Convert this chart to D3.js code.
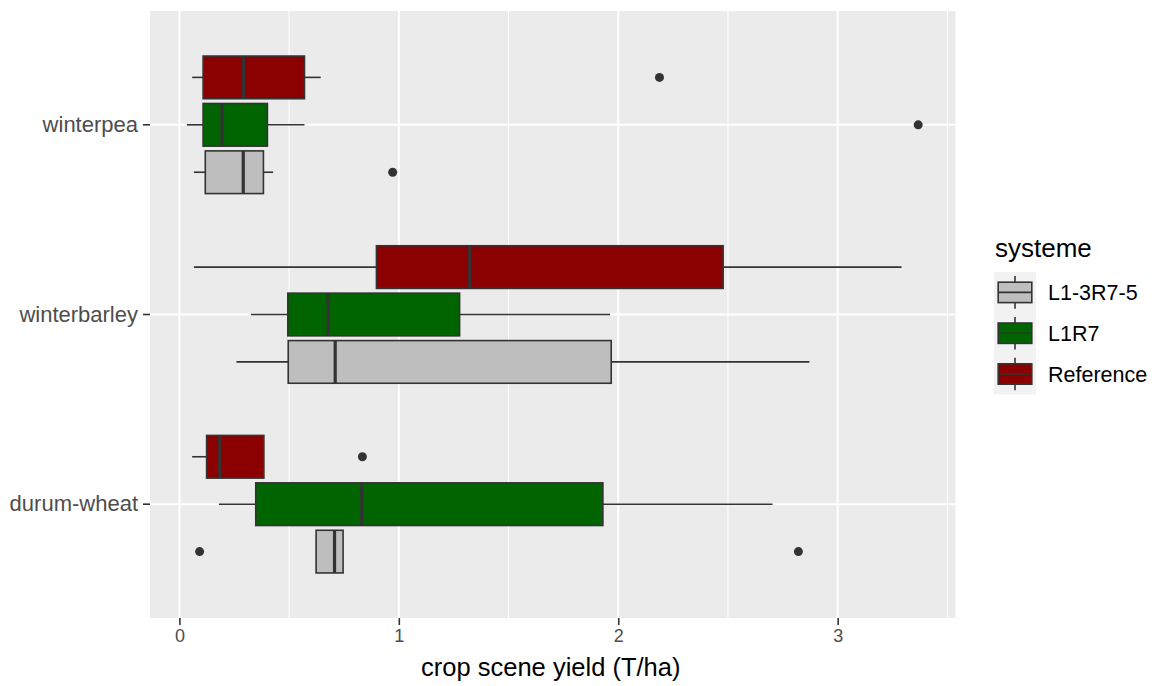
<!DOCTYPE html>
<html><head><meta charset="utf-8">
<script src="https://cdn.jsdelivr.net/npm/d3@7"></script>
<style>body{margin:0;background:#fff}svg{display:block}text{font-family:"Liberation Sans",Arial,sans-serif}</style>
</head><body><svg id="c" width="1156" height="686"></svg>
<script>
// categories (top to bottom) and systems (top to bottom within category)
const categories = ["winterpea", "winterbarley", "durum-wheat"];
const systems = ["Reference", "L1R7", "L1-3R7-5"];
const legendOrder = ["L1-3R7-5", "L1R7", "Reference"];
const colors = {"L1-3R7-5": "#BEBEBE", "L1R7": "#006400", "Reference": "#8B0000"};
const xTicks = [0, 1, 2, 3];
// box stats: [lower whisker, q1, median, q3, upper whisker]
const winterpea = {
  "Reference": [0.058, 0.108, 0.292, 0.570, 0.644],
  "L1R7":      [0.034, 0.108, 0.194, 0.401, 0.570],
  "L1-3R7-5":  [0.066, 0.118, 0.291, 0.383, 0.427]
};
const winterbarley = {
  "Reference": [0.066, 0.898, 1.323, 2.478, 3.291],
  "L1R7":      [0.326, 0.494, 0.678, 1.277, 1.963],
  "L1-3R7-5":  [0.260, 0.496, 0.710, 1.968, 2.871]
};
const durumwheat = {
  "Reference": [0.058, 0.124, 0.184, 0.385, 0.385],
  "L1R7":      [0.180, 0.348, 0.831, 1.930, 2.703],
  "L1-3R7-5":  [0.623, 0.623, 0.707, 0.746, 0.746]
};
const outliersPea = {"Reference": [2.188], "L1R7": [3.367], "L1-3R7-5": [0.972]};
const outliersBarley = {"Reference": [], "L1R7": [], "L1-3R7-5": []};
const outliersDurum = {"Reference": [0.834], "L1R7": [], "L1-3R7-5": [0.092, 2.821]};

const stats = {"winterpea": winterpea, "winterbarley": winterbarley, "durum-wheat": durumwheat};
const outs = {"winterpea": outliersPea, "winterbarley": outliersBarley, "durum-wheat": outliersDurum};

const svg = d3.select("#c");
const P = {l: 150, r: 955.5, t: 11, b: 618};
const x = d3.scaleLinear().domain([-0.134, 3.537]).range([P.l, P.r]);
const y = d3.scaleBand().domain(categories).range([P.t, P.b]).paddingInner(0).paddingOuter(0.1);
const step = y.step();
const sub = d3.scaleBand().domain(systems).range([-0.375 * step, 0.375 * step]);
const boxH = sub.bandwidth() * 0.9;

// panel
svg.append("rect").attr("x", P.l).attr("y", P.t).attr("width", P.r - P.l).attr("height", P.b - P.t).attr("fill", "#EBEBEB");
const minor = [-0.5, 0.5, 1.5, 2.5, 3.5].filter(v => x(v) > P.l && x(v) < P.r);
svg.append("g").selectAll("line").data(minor).join("line")
  .attr("x1", d => x(d)).attr("x2", d => x(d)).attr("y1", P.t).attr("y2", P.b)
  .attr("stroke", "#fff").attr("stroke-width", 1);
svg.append("g").selectAll("line").data(xTicks).join("line")
  .attr("x1", d => x(d)).attr("x2", d => x(d)).attr("y1", P.t).attr("y2", P.b)
  .attr("stroke", "#fff").attr("stroke-width", 2);
svg.append("g").selectAll("line").data(categories).join("line")
  .attr("x1", P.l).attr("x2", P.r).attr("y1", d => y(d) + y.bandwidth() / 2).attr("y2", d => y(d) + y.bandwidth() / 2)
  .attr("stroke", "#fff").attr("stroke-width", 2);

// boxes
const rows = [];
categories.forEach(c => systems.forEach(s => rows.push({c, s, v: stats[c][s], o: outs[c][s]})));
const g = svg.append("g");
rows.forEach(r => {
  const cy = y(r.c) + y.bandwidth() / 2 + sub(r.s) + sub.bandwidth() / 2;
  const [lo, q1, md, q3, hi] = r.v;
  const gg = g.append("g");
  if (lo < q1) gg.append("line").attr("x1", x(lo)).attr("x2", x(q1)).attr("y1", cy).attr("y2", cy).attr("stroke", "#333").attr("stroke-width", 1.6);
  if (hi > q3) gg.append("line").attr("x1", x(q3)).attr("x2", x(hi)).attr("y1", cy).attr("y2", cy).attr("stroke", "#333").attr("stroke-width", 1.6);
  gg.append("rect").attr("x", x(q1)).attr("y", cy - boxH / 2).attr("width", x(q3) - x(q1)).attr("height", boxH)
    .attr("fill", colors[r.s]).attr("stroke", "#333").attr("stroke-width", 1.6);
  gg.append("line").attr("x1", x(md)).attr("x2", x(md)).attr("y1", cy - boxH / 2).attr("y2", cy + boxH / 2)
    .attr("stroke", "#333").attr("stroke-width", 3.2);
  gg.selectAll("circle").data(r.o).join("circle").attr("cx", d => x(d)).attr("cy", cy).attr("r", 4.5).attr("fill", "#333");
});

// axes
const xa = svg.append("g").attr("transform", `translate(0,${P.b})`)
  .call(d3.axisBottom(x).tickValues(xTicks).tickFormat(d3.format("d")).tickSize(7).tickPadding(4));
xa.select(".domain").remove();
xa.selectAll("line").attr("stroke", "#333").attr("stroke-width", 1.6);
xa.selectAll("text").attr("fill", "#4D4D4D").style("font-size", "18px");

const ya = svg.append("g").attr("transform", `translate(${P.l},0)`)
  .call(d3.axisLeft(y).tickSize(7).tickPadding(5));
ya.select(".domain").remove();
ya.selectAll("line").attr("stroke", "#333").attr("stroke-width", 1.6);
ya.selectAll("text").attr("fill", "#4D4D4D").style("font-size", "22px");

svg.append("text").attr("x", (P.l + P.r) / 2 - 2).attr("y", 676).attr("text-anchor", "middle")
  .style("font-size", "25.5px").attr("fill", "#000").text("crop scene yield (T/ha)");

// legend
const L = {x: 994, y: 272, w: 42, h: 40.8};
svg.append("text").attr("x", L.x + 1).attr("y", 257).style("font-size", "26px").attr("fill", "#000").text("systeme");
svg.append("rect").attr("x", L.x).attr("y", L.y).attr("width", L.w).attr("height", L.h * 3).attr("fill", "#F2F2F2");
legendOrder.forEach((s, i) => {
  const ky = L.y + i * L.h;
  const cx = L.x + L.w / 2;
  const lg = svg.append("g");
  lg.append("line").attr("x1", cx).attr("x2", cx).attr("y1", ky + L.h * 0.1).attr("y2", ky + L.h * 0.9).attr("stroke", "#333").attr("stroke-width", 1.6);
  lg.append("rect").attr("x", L.x + L.w * 0.1).attr("y", ky + L.h * 0.25).attr("width", L.w * 0.8).attr("height", L.h * 0.5)
    .attr("fill", colors[s]).attr("stroke", "#333").attr("stroke-width", 1.6);
  lg.append("line").attr("x1", L.x + L.w * 0.1).attr("x2", L.x + L.w * 0.9).attr("y1", ky + L.h / 2).attr("y2", ky + L.h / 2).attr("stroke", "#333").attr("stroke-width", 1.6);
  lg.append("text").attr("x", 1048).attr("y", ky + L.h / 2).attr("dy", "0.35em").style("font-size", "21.5px").attr("fill", "#000").text(s);
});
</script></body></html>
